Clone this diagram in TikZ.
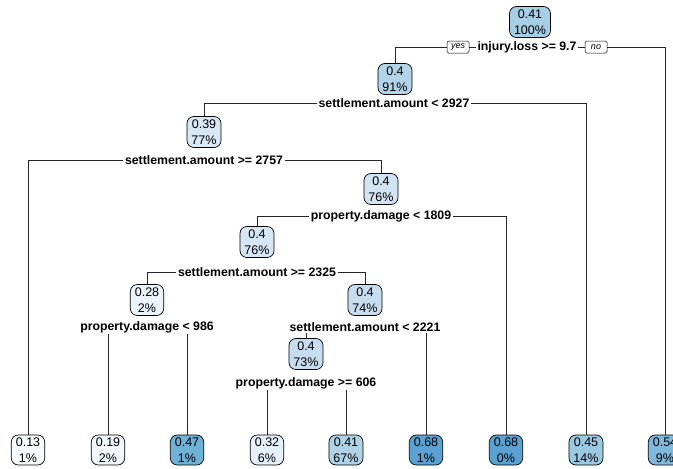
\documentclass[tikz,border=0pt]{standalone}
\usepackage{fontspec}
\setmainfont{Liberation Sans}
\begin{document}
\begin{tikzpicture}[x=1pt,y=-1pt,
  tnode/.style={draw=black, line width=0.7pt, rounded corners=7pt, align=center,
    font=\fontsize{12.5}{15.5}\selectfont, inner xsep=4.5pt, inner ysep=1pt,
    minimum height=31pt},
  leaf/.style={tnode, minimum height=30pt},
  split/.style={font=\bfseries\fontsize{12.3}{14}\selectfont, inner xsep=1.5pt, inner ysep=1pt},
  yn/.style={draw=black, line width=0.5pt, rounded corners=1.5pt, font=\itshape\fontsize{9}{10}\selectfont,
    inner xsep=3pt, inner ysep=1pt, minimum height=12pt, minimum width=22pt},
  edge/.style={draw=black!85, line width=0.7pt}
]
\clip (0,0) rectangle (673,469);
\useasboundingbox (0,0) rectangle (673,469);
\definecolor{c41}{HTML}{A6CEE4}
\definecolor{c91}{HTML}{B3D3E9}
\definecolor{c77}{HTML}{D9E8F5}
\definecolor{c76a}{HTML}{D2E3F3}
\definecolor{c76b}{HTML}{D7E6F4}
\definecolor{c28}{HTML}{EBF3FB}
\definecolor{c74}{HTML}{C8DCF0}
\definecolor{c73}{HTML}{C8DCF0}
\definecolor{l13}{HTML}{F7FBFF}
\definecolor{l19}{HTML}{F2F7FD}
\definecolor{l47}{HTML}{70B1D8}
\definecolor{l32}{HTML}{E6F0FA}
\definecolor{l41}{HTML}{B0D2E7}
\definecolor{l68a}{HTML}{5BA2D2}
\definecolor{l68b}{HTML}{5BA2D2}
\definecolor{l45}{HTML}{9CC9E2}
\definecolor{l54}{HTML}{80B9DC}

% internal nodes
\node[tnode, fill=c41] (n1) at (530,22) {0.41\\100\%};
\node[tnode, fill=c91] (n2) at (395,79) {0.4\\91\%};
\node[tnode, fill=c77] (n3) at (204,132) {0.39\\77\%};
\node[tnode, fill=c76a] (n4) at (381,189) {0.4\\76\%};
\node[tnode, fill=c76b] (n5) at (257,242) {0.4\\76\%};
\node[tnode, fill=c28] (n6) at (147,300) {0.28\\2\%};
\node[tnode, fill=c74] (n7) at (365,300) {0.4\\74\%};
\node[tnode, fill=c73] (n8) at (306,354) {0.4\\73\%};

% leaves
\node[leaf, fill=l13] (f1) at (28,450) {0.13\\1\%};
\node[leaf, fill=l19] (f2) at (108,450) {0.19\\2\%};
\node[leaf, fill=l47] (f3) at (187,450) {0.47\\1\%};
\node[leaf, fill=l32] (f4) at (267,450) {0.32\\6\%};
\node[leaf, fill=l41] (f5) at (346,450) {0.41\\67\%};
\node[leaf, fill=l68a] (f6) at (426,450) {0.68\\1\%};
\node[leaf, fill=l68b] (f7) at (506,450) {0.68\\0\%};
\node[leaf, fill=l45] (f8) at (586,450) {0.45\\14\%};
\node[leaf, fill=l54] (f9) at (665,450) {0.54\\9\%};

% split labels
\node[split] (s1) at (527,47) {injury.loss >= 9.7};
\node[yn] (yes) at (458,47) {yes};
\node[yn] (no) at (596,47) {no};
\node[split] (s2) at (394,103) {settlement.amount < 2927};
\node[split] (s3) at (204,160) {settlement.amount >= 2757};
\node[split] (s4) at (381,216) {property.damage < 1809};
\node[split] (s5) at (257,272) {settlement.amount >= 2325};
\node[split] (s6) at (147,327) {property.damage < 986};
\node[split] (s7) at (365,327) {settlement.amount < 2221};
\node[split] (s8) at (306,383) {property.damage >= 606};

% connectors
\draw[edge] (yes.west) -| (n2.north);
\draw[edge] (yes.east) -- (s1.west);
\draw[edge] (s1.east) -- (no.west);
\draw[edge] (no.east) -| (f9.north);

\draw[edge] (s2.west) -| (n3.north);
\draw[edge] (s2.east) -| (f8.north);

\draw[edge] (s3.west) -| (f1.north);
\draw[edge] (s3.east) -| (n4.north);

\draw[edge] (s4.west) -| (n5.north);
\draw[edge] (s4.east) -| (f7.north);

\draw[edge] (s5.west) -| (n6.north);
\draw[edge] (s5.east) -| (n7.north);

\draw[edge] (f2.north |- s6.south) -- (f2.north);
\draw[edge] (f3.north |- s6.south) -- (f3.north);

\draw[edge] (n8.north |- s7.south) -- (n8.north);
\draw[edge] (f6.north |- s7.south) -- (f6.north);

\draw[edge] (f4.north |- s8.south) -- (f4.north);
\draw[edge] (f5.north |- s8.south) -- (f5.north);
\end{tikzpicture}
\end{document}
